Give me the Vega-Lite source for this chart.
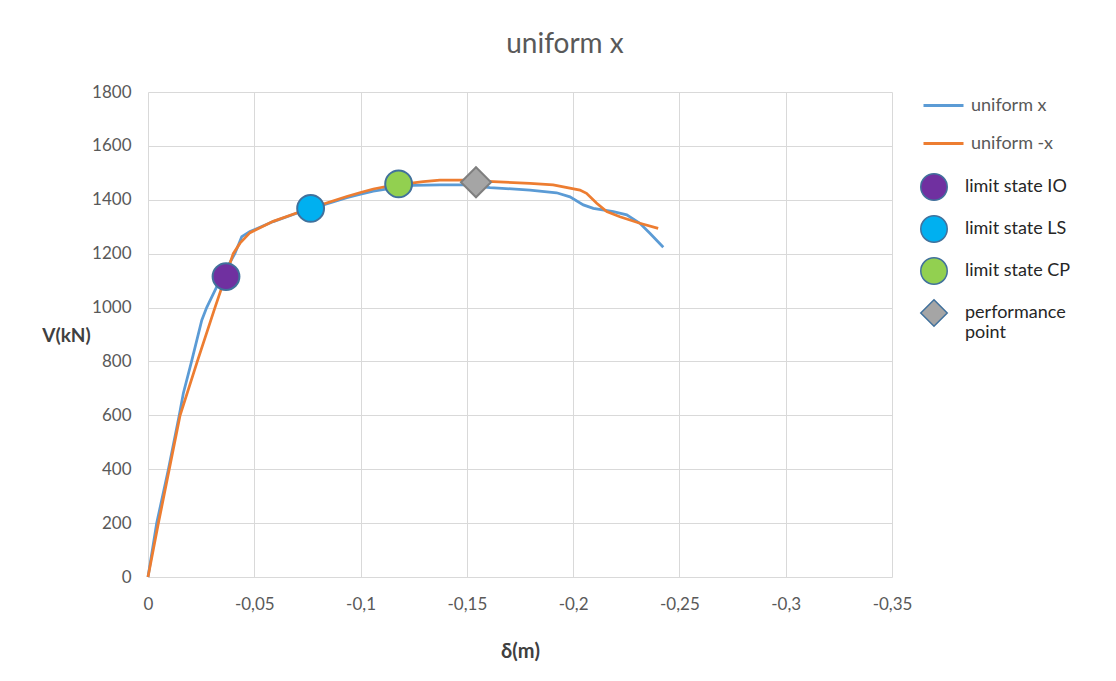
{
  "$schema": "https://vega.github.io/schema/vega-lite/v6.json",
  "width": 744,
  "height": 485,
  "autosize": "none",
  "padding": {"left": 148, "top": 92, "right": 224, "bottom": 104},
  "background": "white",
  "config": {"font": "Lato", "view": {"stroke": null}},
  "title": {"text": "uniform x", "fontSize": 28, "fontWeight": "normal", "color": "#595959", "anchor": "middle", "dx": 45, "offset": 2, "baseline": "alphabetic"},
  "datasets": {
    "curves": [
      {"d": 0, "V": 0, "s": "uniform x"},
      {"d": -0.0041, "V": 200, "s": "uniform x"},
      {"d": -0.0096, "V": 400, "s": "uniform x"},
      {"d": -0.0147, "V": 600, "s": "uniform x"},
      {"d": -0.0166, "V": 681, "s": "uniform x"},
      {"d": -0.0205, "V": 800, "s": "uniform x"},
      {"d": -0.0253, "V": 953, "s": "uniform x"},
      {"d": -0.0276, "V": 1000, "s": "uniform x"},
      {"d": -0.0323, "V": 1077, "s": "uniform x"},
      {"d": -0.0409, "V": 1201, "s": "uniform x"},
      {"d": -0.0441, "V": 1263, "s": "uniform x"},
      {"d": -0.048, "V": 1282, "s": "uniform x"},
      {"d": -0.0503, "V": 1290, "s": "uniform x"},
      {"d": -0.0589, "V": 1319, "s": "uniform x"},
      {"d": -0.0699, "V": 1350, "s": "uniform x"},
      {"d": -0.0765, "V": 1366, "s": "uniform x"},
      {"d": -0.084, "V": 1385, "s": "uniform x"},
      {"d": -0.0935, "V": 1408, "s": "uniform x"},
      {"d": -0.1, "V": 1421, "s": "uniform x"},
      {"d": -0.106, "V": 1432, "s": "uniform x"},
      {"d": -0.118, "V": 1447, "s": "uniform x"},
      {"d": -0.1248, "V": 1453, "s": "uniform x"},
      {"d": -0.1373, "V": 1455, "s": "uniform x"},
      {"d": -0.1483, "V": 1455, "s": "uniform x"},
      {"d": -0.1609, "V": 1445, "s": "uniform x"},
      {"d": -0.1797, "V": 1436, "s": "uniform x"},
      {"d": -0.1922, "V": 1426, "s": "uniform x"},
      {"d": -0.1985, "V": 1411, "s": "uniform x"},
      {"d": -0.2048, "V": 1381, "s": "uniform x"},
      {"d": -0.2095, "V": 1368, "s": "uniform x"},
      {"d": -0.2189, "V": 1356, "s": "uniform x"},
      {"d": -0.2252, "V": 1344, "s": "uniform x"},
      {"d": -0.2314, "V": 1313, "s": "uniform x"},
      {"d": -0.2361, "V": 1276, "s": "uniform x"},
      {"d": -0.2424, "V": 1224, "s": "uniform x"},
      {"d": 0, "V": 0, "s": "uniform -x"},
      {"d": -0.0049, "V": 200, "s": "uniform -x"},
      {"d": -0.01, "V": 400, "s": "uniform -x"},
      {"d": -0.0151, "V": 600, "s": "uniform -x"},
      {"d": -0.0232, "V": 800, "s": "uniform -x"},
      {"d": -0.0315, "V": 1000, "s": "uniform -x"},
      {"d": -0.0401, "V": 1200, "s": "uniform -x"},
      {"d": -0.0433, "V": 1239, "s": "uniform -x"},
      {"d": -0.048, "V": 1278, "s": "uniform -x"},
      {"d": -0.0503, "V": 1287, "s": "uniform -x"},
      {"d": -0.0589, "V": 1320, "s": "uniform -x"},
      {"d": -0.0699, "V": 1351, "s": "uniform -x"},
      {"d": -0.0765, "V": 1368, "s": "uniform -x"},
      {"d": -0.084, "V": 1388, "s": "uniform -x"},
      {"d": -0.0935, "V": 1412, "s": "uniform -x"},
      {"d": -0.1, "V": 1427, "s": "uniform -x"},
      {"d": -0.106, "V": 1440, "s": "uniform -x"},
      {"d": -0.118, "V": 1458, "s": "uniform -x"},
      {"d": -0.1248, "V": 1463, "s": "uniform -x"},
      {"d": -0.1295, "V": 1467, "s": "uniform -x"},
      {"d": -0.1373, "V": 1473, "s": "uniform -x"},
      {"d": -0.1483, "V": 1473, "s": "uniform -x"},
      {"d": -0.1624, "V": 1467, "s": "uniform -x"},
      {"d": -0.1797, "V": 1461, "s": "uniform -x"},
      {"d": -0.1906, "V": 1455, "s": "uniform -x"},
      {"d": -0.2032, "V": 1436, "s": "uniform -x"},
      {"d": -0.2063, "V": 1424, "s": "uniform -x"},
      {"d": -0.2111, "V": 1387, "s": "uniform -x"},
      {"d": -0.2158, "V": 1356, "s": "uniform -x"},
      {"d": -0.222, "V": 1337, "s": "uniform -x"},
      {"d": -0.2314, "V": 1313, "s": "uniform -x"},
      {"d": -0.24, "V": 1294, "s": "uniform -x"}
    ],
    "markers": [
      {"d": -0.0367, "V": 1115, "s": "limit state IO"},
      {"d": -0.0765, "V": 1368, "s": "limit state LS"},
      {"d": -0.1179, "V": 1459, "s": "limit state CP"},
      {"d": -0.1543, "V": 1465, "s": "performance point"}
    ]
  },
  "encoding": {
    "x": {
      "field": "d", "type": "quantitative",
      "scale": {"domain": [0, -0.35], "nice": false, "zero": false},
      "axis": {
        "title": "δ(m)",
        "values": [0, -0.05, -0.1, -0.15, -0.2, -0.25, -0.3, -0.35],
        "labelExpr": "datum.value == 0 ? '0' : replace(toString(datum.value), '.', ',')",
        "ticks": false, "domain": false, "gridColor": "#D9D9D9", "gridWidth": 1,
        "labelColor": "#595959", "labelFontSize": 17, "labelPadding": 19,
        "labelOverlap": false, "labelFlush": false,
        "titleFontSize": 20, "titleFontWeight": "bold", "titleColor": "#404040",
        "titleY": 74, "titleBaseline": "middle"
      }
    },
    "y": {
      "field": "V", "type": "quantitative",
      "scale": {"domain": [0, 1800], "nice": false},
      "axis": {
        "title": "V(kN)",
        "values": [0, 200, 400, 600, 800, 1000, 1200, 1400, 1600, 1800],
        "format": "d",
        "ticks": false, "domain": false, "gridColor": "#D9D9D9", "gridWidth": 1,
        "labelColor": "#595959", "labelFontSize": 17, "labelPadding": 17,
        "labelOverlap": false, "labelFlush": false,
        "titleFontSize": 19, "titleFontWeight": "bold", "titleColor": "#404040",
        "titleAngle": 0, "titleX": -82, "titleY": 243, "titleAlign": "center", "titleBaseline": "middle"
      }
    }
  },
  "layer": [
    {
      "data": {"name": "curves"},
      "mark": {"type": "line", "strokeWidth": 2.75},
      "encoding": {
        "color": {
          "field": "s", "type": "nominal",
          "scale": {"domain": ["uniform x", "uniform -x"], "range": ["#5B9BD5", "#ED7D31"]},
          "legend": {
            "title": null, "orient": "none", "legendX": 774, "legendY": -8, "padding": 0,
            "symbolType": "stroke", "symbolSize": 1600, "symbolStrokeWidth": 3,
            "labelFontSize": 18, "labelColor": "#595959", "labelOffset": 6, "rowPadding": 7
          }
        }
      }
    },
    {
      "data": {"name": "markers"},
      "mark": {"type": "point", "filled": true, "opacity": 1, "strokeWidth": 2},
      "encoding": {
        "fill": {
          "field": "s", "type": "nominal",
          "scale": {"domain": ["limit state IO", "limit state LS", "limit state CP", "performance point"], "range": ["#7030A0", "#00B0F0", "#92D050", "#A5A5A5"]},
          "legend": {
            "title": null, "orient": "none", "legendX": 772, "legendY": 81, "padding": 0,
            "symbolSize": 700, "labelFontSize": 18, "labelColor": "#262626", "labelOffset": 17, "rowPadding": 8,
            "labelExpr": "datum.label == 'performance point' ? ['performance', 'point'] : datum.label",
            "encode": {
              "symbols": {"update": {
                "stroke": {"signal": "datum.value == 'performance point' ? '#7F7F7F' : '#41719C'"},
                "strokeWidth": {"value": 2},
                "size": {"signal": "datum.value == 'performance point' ? 1100 : 700"}
              }},
              "labels": {"update": {"lineHeight": {"value": 25}}}
            }
          }
        },
        "shape": {
          "field": "s", "type": "nominal",
          "scale": {"domain": ["limit state IO", "limit state LS", "limit state CP", "performance point"], "range": ["circle", "circle", "circle", "diamond"]},
          "legend": {
            "title": null, "orient": "none", "legendX": 772, "legendY": 81, "padding": 0,
            "symbolSize": 700, "labelFontSize": 18, "labelColor": "#262626", "labelOffset": 17, "rowPadding": 8,
            "labelExpr": "datum.label == 'performance point' ? ['performance', 'point'] : datum.label",
            "encode": {
              "labels": {"update": {"lineHeight": {"value": 25}}}
            }
          }
        },
        "stroke": {"condition": {"test": "datum.s == 'performance point'", "value": "#7F7F7F"}, "value": "#41719C"},
        "size": {"condition": {"test": "datum.s == 'performance point'", "value": 900}, "value": 720}
      }
    }
  ]
}
